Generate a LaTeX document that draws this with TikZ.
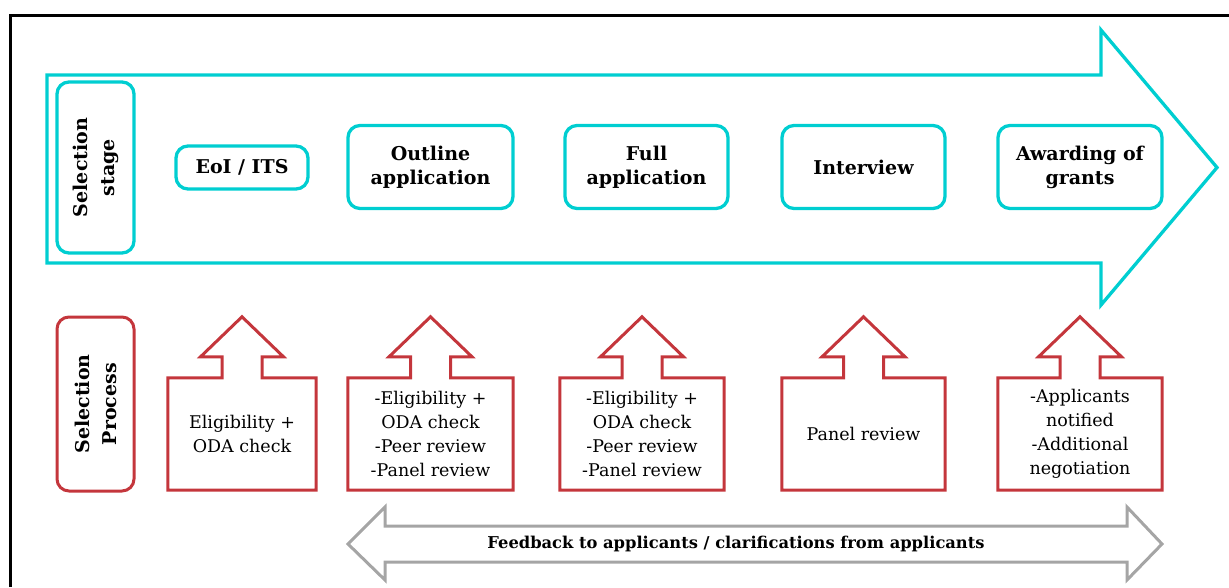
\documentclass[tikz,border=0pt]{standalone}
\usepackage{fontspec}
\setmainfont{DejaVu Serif}
\usepackage{tikz}
\usetikzlibrary{calc}

\definecolor{stagecyan}{RGB}{0,206,209}
\definecolor{procred}{RGB}{196,54,60}
\definecolor{feedgrey}{RGB}{165,165,165}

\begin{document}
\begin{tikzpicture}[x=1pt, y=-1pt,
        stage/.style={rectangle, draw=stagecyan, line width=3.3pt, rounded corners=12pt, inner sep=0pt, minimum height=83pt, align=center, font=\fontsize{19}{24}\selectfont\bfseries},
        side/.style={rectangle, rotate=90, rounded corners=12pt, line width=3.3pt, inner sep=0pt, minimum height=77pt, align=center, font=\fontsize{19}{27}\selectfont\bfseries},
        procbox/.style={rectangle, inner sep=0pt, minimum height=112pt, align=center, font=\fontsize{17.5}{24}\selectfont},
        procline/.style={draw=procred, line width=3pt},
        bigarrow/.style={draw=stagecyan, line width=3.3pt},
        feedarrow/.style={draw=feedgrey, line width=3pt}
    ]
        \useasboundingbox (0,0) rectangle (1229,587);

        % frame
        \draw[line width=3pt] (10,587) -- (10,15.5) -- (1229,15.5);

        % stage arrow
        \draw[bigarrow] (47,75) -- (1101,75) -- (1101,30) -- (1217,167.5) -- (1101,305) -- (1101,263) -- (47,263) -- cycle;

        \node[side, draw=stagecyan, minimum width=171pt] (stagelbl) at (95.5,167.5) {Selection\\stage};
        \node[stage, minimum width=132pt, minimum height=43pt] (eoi) at (242,167.5) {EoI / ITS};
        \node[stage, minimum width=165pt] (outline) at (430.5,167) {Outline\\application};
        \node[stage, minimum width=163pt] (full) at (646.5,167) {Full\\application};
        \node[stage, minimum width=163pt] (interview) at (863.5,167) {Interview};
        \node[stage, minimum width=164pt] (award) at (1080,167) {Awarding of\\grants};

        % process boxes
        \node[side, draw=procred, line width=3pt, minimum width=174pt] (proclbl) at (95.5,404) {Selection\\Process};
        \node[procbox, minimum width=148pt] (p1) at (242,434) {Eligibility +\\ODA check};
        \node[procbox, minimum width=165pt] (p2) at (430.5,434) {-Eligibility +\\ODA check\\-Peer review\\-Panel review};
        \node[procbox, minimum width=164pt] (p3) at (642,434) {-Eligibility +\\ODA check\\-Peer review\\-Panel review};
        \node[procbox, minimum width=163pt] (p4) at (863.5,434) {Panel review};
        \node[procbox, minimum width=164pt] (p5) at (1080,434) {-Applicants\\notified\\-Additional\\negotiation};

        \foreach \n in {p1,p2,p3,p4,p5}
            \draw[procline] (\n.south west) -- (\n.north west) -- ($(\n.north)+(-20,0)$) -- ++(0,-21) -- ++(-21.5,0)
                -- ($(\n.north)+(0,-61)$) -- ($(\n.north)+(41.5,-21)$) -- ++(-21.5,0) -- ++(0,21)
                -- (\n.north east) -- (\n.south east) -- cycle;

        % feedback arrow
        \draw[feedarrow] (348,544) -- (385,507) -- (385,526) -- (1127,526) -- (1127,507) -- (1162,544)
            -- (1127,580) -- (1127,562) -- (385,562) -- (385,580) -- cycle;
        \node[font=\fontsize{16.3}{20}\selectfont\bfseries] (feedback) at (736,544) {Feedback to applicants / clarifications from applicants};
    \end{tikzpicture}
\end{document}
